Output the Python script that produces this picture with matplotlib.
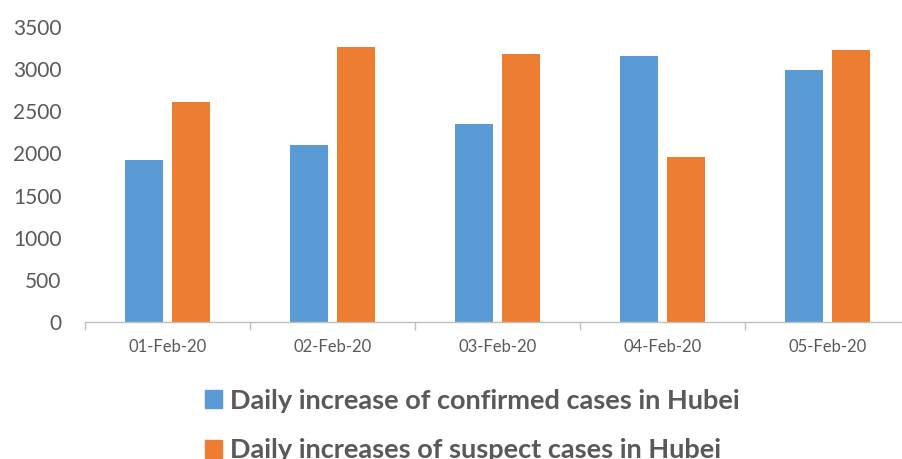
import matplotlib
matplotlib.use("Agg")
import matplotlib.pyplot as plt
import numpy as np
from matplotlib.patches import Patch

categories = ["01-Feb-20", "02-Feb-20", "03-Feb-20", "04-Feb-20", "05-Feb-20"]
confirmed = [1921, 2103, 2345, 3156, 2987]
suspect = [2606, 3260, 3182, 1957, 3228]
yticks = [0, 500, 1000, 1500, 2000, 2500, 3000, 3500]
labels = ["Daily increase of confirmed cases in Hubei", "Daily increases of suspect cases in Hubei"]

blue = "#5B9BD5"
orange = "#ED7D31"
grey = "#595959"

plt.rcParams['font.family'] = ['Lato', 'DejaVu Sans']

fig = plt.figure(figsize=(9.02, 4.59), dpi=100)
ax = fig.add_axes([85/902, 1-322/459, 825/902, (322-27)/459])

x = np.arange(len(categories))
w = 0.225
gap = 0.06
ax.bar(x - (w+gap)/2, confirmed, width=w, color=blue)
ax.bar(x + (w+gap)/2, suspect, width=w, color=orange)

ax.set_xlim(-0.5, len(categories)-0.5)
ax.set_ylim(0, 3500)
ax.set_yticks(yticks)
ax.set_yticklabels([str(v) for v in yticks], fontsize=15, color=grey)
ax.tick_params(axis='y', length=0, pad=17)
ax.set_xticks(x)
ax.set_xticklabels(categories, fontsize=12, color=grey)
ax.tick_params(axis='x', length=0, pad=12)
ax.set_xticks(np.arange(len(categories)+1)-0.5, minor=True)
ax.tick_params(axis='x', which='minor', length=6, color="#BFBFBF", width=1)
for s in ['top', 'right', 'left']:
    ax.spines[s].set_visible(False)
ax.spines['bottom'].set_color("#BFBFBF")
ax.spines['bottom'].set_linewidth(1)

handles = [Patch(color=blue), Patch(color=orange)]
leg = fig.legend(handles, labels, loc='upper left', bbox_to_anchor=(191/902, 1-375/459),
                 frameon=False, borderpad=0, handlelength=0.65, handleheight=0.65,
                 handletextpad=0.3, labelspacing=0.95,
                 prop={'size': 19.5, 'weight': 'bold'})
for t in leg.get_texts():
    t.set_color(grey)

fig.savefig("out.png", dpi=100)
